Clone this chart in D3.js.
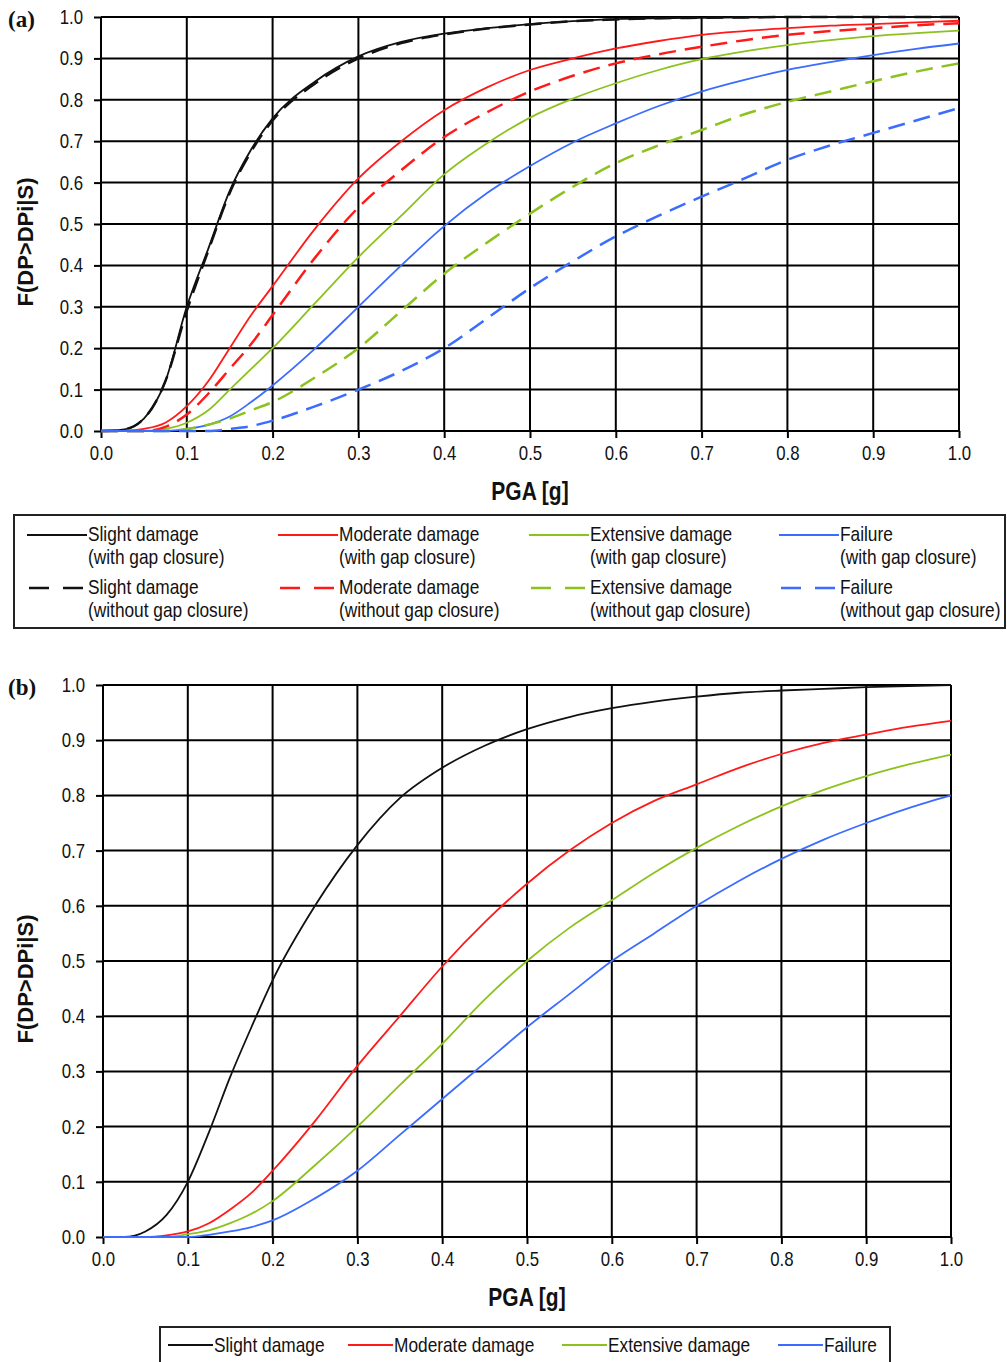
<!DOCTYPE html>
<html>
<head>
<meta charset="utf-8">
<script src="https://cdn.jsdelivr.net/npm/d3@7"></script>
<style>
	body { margin: 0; background: #fff; }
	svg text { fill: #111; }
	.cond-end { transform-box: fill-box; transform-origin: 100% 50%; transform: scaleX(0.84); }
	.cond-mid { transform-box: fill-box; transform-origin: 50% 50%; transform: scaleX(0.84); }
	.cond-start { transform-box: fill-box; transform-origin: 0% 50%; transform: scaleX(0.865); }
</style>
</head>
<body>
<svg class="mainsvg" width="1007" height="1362"></svg>
<script>
// PGA sampling points (g), shared by every curve
var pga = [0, 0.025, 0.05, 0.075, 0.1, 0.125, 0.15, 0.175, 0.2, 0.25, 0.3, 0.35, 0.4, 0.45, 0.5, 0.55, 0.6, 0.65, 0.7, 0.75, 0.8, 0.85, 0.9, 0.95, 1.0];

// panel (a), with / without gap closure
var slightGapA      = [0, 0.003, 0.03, 0.12, 0.3, 0.44, 0.58, 0.68, 0.755, 0.845, 0.905, 0.94, 0.96, 0.973, 0.983, 0.99, 0.995, 0.997, 0.998, 0.999, 1, 1, 1, 1, 1];
var slightNoGapA    = [0, 0.003, 0.03, 0.12, 0.29, 0.435, 0.575, 0.675, 0.75, 0.84, 0.9, 0.937, 0.958, 0.972, 0.982, 0.99, 0.994, 0.997, 0.998, 0.999, 1, 1, 1, 1, 1];
var moderateGapA    = [0, 0, 0.005, 0.02, 0.06, 0.12, 0.2, 0.28, 0.35, 0.49, 0.61, 0.7, 0.775, 0.83, 0.872, 0.9, 0.924, 0.942, 0.957, 0.966, 0.973, 0.979, 0.983, 0.987, 0.991];
var moderateNoGapA  = [0, 0, 0, 0.01, 0.04, 0.09, 0.15, 0.21, 0.28, 0.42, 0.54, 0.63, 0.71, 0.77, 0.82, 0.858, 0.888, 0.91, 0.928, 0.944, 0.957, 0.966, 0.973, 0.98, 0.985];
var extensiveGapA   = [0, 0, 0, 0.005, 0.02, 0.05, 0.1, 0.15, 0.2, 0.31, 0.42, 0.52, 0.62, 0.695, 0.757, 0.803, 0.84, 0.872, 0.898, 0.917, 0.932, 0.944, 0.954, 0.961, 0.967];
var extensiveNoGapA = [0, 0, 0, 0, 0.005, 0.015, 0.03, 0.05, 0.07, 0.13, 0.2, 0.29, 0.38, 0.455, 0.525, 0.59, 0.647, 0.69, 0.727, 0.765, 0.795, 0.82, 0.845, 0.868, 0.888];
var failureGapA     = [0, 0, 0, 0, 0.005, 0.015, 0.035, 0.07, 0.11, 0.2, 0.3, 0.4, 0.495, 0.575, 0.64, 0.697, 0.743, 0.785, 0.82, 0.848, 0.872, 0.891, 0.908, 0.923, 0.936];
var failureNoGapA   = [0, 0, 0, 0, 0, 0, 0.005, 0.012, 0.025, 0.06, 0.1, 0.145, 0.2, 0.272, 0.345, 0.41, 0.47, 0.52, 0.566, 0.61, 0.655, 0.69, 0.72, 0.75, 0.78];

// panel (b)
var slightB    = [0, 0, 0.01, 0.04, 0.1, 0.19, 0.29, 0.38, 0.465, 0.6, 0.71, 0.795, 0.85, 0.89, 0.92, 0.942, 0.958, 0.97, 0.979, 0.986, 0.99, 0.993, 0.996, 0.998, 1.0];
var moderateB  = [0, 0, 0, 0.003, 0.01, 0.025, 0.05, 0.08, 0.12, 0.21, 0.31, 0.4, 0.49, 0.57, 0.64, 0.7, 0.75, 0.79, 0.82, 0.85, 0.875, 0.895, 0.91, 0.924, 0.935];
var extensiveB = [0, 0, 0, 0, 0.005, 0.012, 0.025, 0.042, 0.065, 0.13, 0.2, 0.275, 0.35, 0.43, 0.5, 0.56, 0.61, 0.66, 0.705, 0.745, 0.78, 0.81, 0.835, 0.856, 0.874];
var failureB   = [0, 0, 0, 0, 0, 0.004, 0.01, 0.018, 0.03, 0.07, 0.12, 0.185, 0.25, 0.315, 0.38, 0.44, 0.5, 0.55, 0.6, 0.645, 0.685, 0.72, 0.75, 0.777, 0.8];

var xTicks = [0, 0.1, 0.2, 0.3, 0.4, 0.5, 0.6, 0.7, 0.8, 0.9, 1.0];
var yTicks = [0, 0.1, 0.2, 0.3, 0.4, 0.5, 0.6, 0.7, 0.8, 0.9, 1.0];

var damageStates = ['Slight damage', 'Moderate damage', 'Extensive damage', 'Failure'];
var gapLabels = ['(with gap closure)', '(without gap closure)'];

var colors = ['#111111', '#ff1a1a', '#8cc21e', '#3b6cff'];
var sans = "'Liberation Sans', Arial, sans-serif";

var svg = d3.select('.mainsvg');

function drawPanel (cfg) {
	var x = d3.scaleLinear().domain([0, 1]).range([cfg.left, cfg.right]);
	var y = d3.scaleLinear().domain([0, 1]).range([cfg.bottom, cfg.top]);
	var g = svg.append('g');

	// grid
	g.selectAll('.vgrid')
		.data(xTicks)
		.enter().append('line')
		.attr('x1', d => x(d)).attr('x2', d => x(d))
		.attr('y1', cfg.top).attr('y2', cfg.bottom)
		.attr('stroke', '#000')
		.attr('stroke-width', 2)
	g.selectAll('.hgrid')
		.data(yTicks)
		.enter().append('line')
		.attr('x1', cfg.left).attr('x2', cfg.right)
		.attr('y1', d => y(d)).attr('y2', d => y(d))
		.attr('stroke', '#000')
		.attr('stroke-width', 2)

	// axes
	var xAxis = g.append('g')
		.attr('transform', 'translate(0,' + cfg.bottom + ')')
		.call(d3.axisBottom(x).tickValues(xTicks).tickFormat(d3.format('.1f')).tickSize(7).tickPadding(8))
	xAxis.selectAll('.tick text').classed('cond-mid', true)
	var yAxis = g.append('g')
		.attr('transform', 'translate(' + cfg.left + ',0)')
		.call(d3.axisLeft(y).tickValues(yTicks).tickFormat(d3.format('.1f')).tickSize(7).tickPadding(11))
	yAxis.selectAll('.tick text').classed('cond-end', true)
	g.selectAll('.domain').remove()
	g.selectAll('.tick line').attr('stroke', '#000').attr('stroke-width', 2)
	g.selectAll('.tick text')
		.attr('font-family', sans)
		.attr('font-size', '20px')
		.attr('fill', '#1a1a2e')

	// curves
	var line = d3.line()
		.x((d, i) => x(pga[i]))
		.y(d => y(d))
		.curve(d3.curveMonotoneX)
	cfg.series.forEach(function (s) {
		g.append('path')
			.attr('d', line(s.values))
			.attr('fill', 'none')
			.attr('stroke', s.color)
			.attr('stroke-width', s.dashed ? 2.5 : 1.8)
			.attr('stroke-dasharray', s.dashed ? '17,9' : null)
	})

	// titles
	g.append('text')
		.classed('cond-mid', true)
		.attr('x', (cfg.left + cfg.right) / 2)
		.attr('y', cfg.bottom + 69)
		.attr('font-family', sans)
		.attr('font-size', '25px')
		.attr('font-weight', 'bold')
		.style('text-anchor', 'middle')
		.text('PGA [g]')
	g.append('text')
		.attr('transform', 'translate(33,' + ((cfg.top + cfg.bottom) / 2 + 18) + ') rotate(-90)')
		.attr('font-family', sans)
		.attr('font-size', '22px')
		.attr('font-weight', 'bold')
		.style('text-anchor', 'middle')
		.text('F(DP>DPi|S)')
	g.append('text')
		.attr('x', 8)
		.attr('y', cfg.top + 10)
		.attr('font-family', 'Liberation Serif, Times New Roman, serif')
		.attr('font-size', '23px')
		.attr('font-weight', 'bold')
		.attr('fill', '#2a2a3a')
		.text(cfg.tag)
}

drawPanel({
	tag: '(a)', left: 101, right: 959, top: 17, bottom: 431,
	series: [
		{ values: slightGapA, color: colors[0], dashed: false },
		{ values: moderateGapA, color: colors[1], dashed: false },
		{ values: extensiveGapA, color: colors[2], dashed: false },
		{ values: failureGapA, color: colors[3], dashed: false },
		{ values: slightNoGapA, color: colors[0], dashed: true },
		{ values: moderateNoGapA, color: colors[1], dashed: true },
		{ values: extensiveNoGapA, color: colors[2], dashed: true },
		{ values: failureNoGapA, color: colors[3], dashed: true }
	]
});

drawPanel({
	tag: '(b)', left: 103, right: 951, top: 685, bottom: 1237,
	series: [
		{ values: slightB, color: colors[0], dashed: false },
		{ values: moderateB, color: colors[1], dashed: false },
		{ values: extensiveB, color: colors[2], dashed: false },
		{ values: failureB, color: colors[3], dashed: false }
	]
});

// legend (a)
var legA = svg.append('g');
legA.append('rect')
	.attr('x', 14).attr('y', 515)
	.attr('width', 991).attr('height', 113)
	.attr('fill', 'none')
	.attr('stroke', '#222')
	.attr('stroke-width', 2)
var colX = [27, 278, 529, 779];
var rowY = [535, 588];
damageStates.forEach(function (name, i) {
	rowY.forEach(function (ry, r) {
		legA.append('line')
			.attr('x1', colX[i] + (r ? 2 : 0)).attr('x2', colX[i] + (r ? 56 : 60))
			.attr('y1', ry).attr('y2', ry)
			.attr('stroke', colors[i])
			.attr('stroke-width', r ? 2.6 : 1.8)
			.attr('stroke-dasharray', r ? '20,14' : null)
		legA.append('text')
			.classed('cond-start', true)
			.attr('x', colX[i] + 61)
			.attr('y', ry + 6)
			.attr('font-family', sans)
			.attr('font-size', '20px')
			.attr('fill', '#1a1a2e')
			.text(name)
		legA.append('text')
			.classed('cond-start', true)
			.attr('x', colX[i] + 61)
			.attr('y', ry + 29)
			.attr('font-family', sans)
			.attr('font-size', '20px')
			.attr('fill', '#1a1a2e')
			.text(gapLabels[r])
	})
})

// legend (b)
var legB = svg.append('g');
legB.append('rect')
	.attr('x', 160).attr('y', 1327)
	.attr('width', 730).attr('height', 60)
	.attr('fill', 'none')
	.attr('stroke', '#222')
	.attr('stroke-width', 2)
var colXB = [168, 348, 562, 778];
damageStates.forEach(function (name, i) {
	legB.append('line')
		.attr('x1', colXB[i]).attr('x2', colXB[i] + 45)
		.attr('y1', 1345).attr('y2', 1345)
		.attr('stroke', colors[i])
		.attr('stroke-width', 2)
	legB.append('text')
		.classed('cond-start', true)
		.attr('x', colXB[i] + 46)
		.attr('y', 1352)
		.attr('font-family', sans)
		.attr('font-size', '20px')
		.attr('fill', '#1a1a2e')
		.text(name)
})
</script>
</body>
</html>
